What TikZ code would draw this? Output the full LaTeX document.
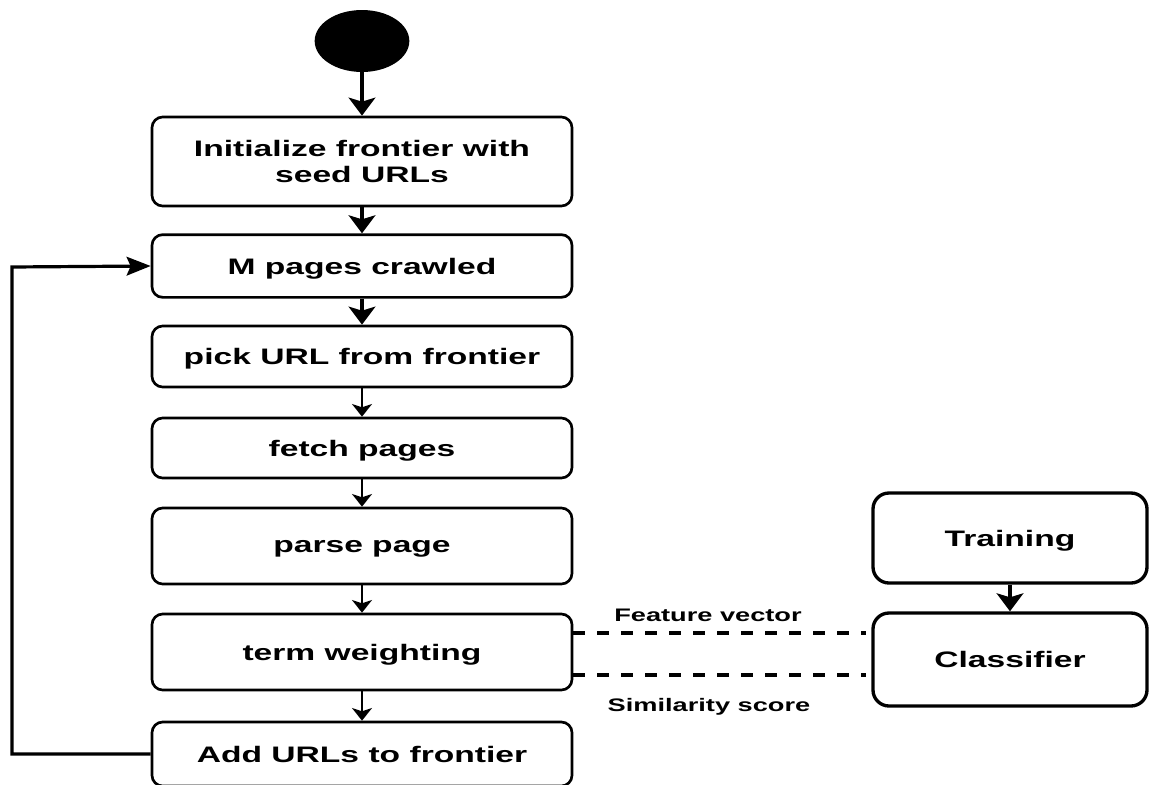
\documentclass[tikz,border=0pt]{standalone}
\usepackage{fontspec}
\newfontfamily\diafont{Liberation Sans}[FakeStretch=1.5]
\usetikzlibrary{arrows.meta,shapes.geometric}

\begin{document}
\begin{tikzpicture}
  [x=0.75pt,y=-0.75pt,
   every node/.style={font=\diafont\bfseries\fontsize{16.8}{20}\selectfont},
   stepbox/.style={draw,line width=2pt,rounded corners=8pt,minimum width=315pt,align=center,inner sep=0pt,text depth=0pt},
   sidebox/.style={draw,line width=2.5pt,rounded corners=12pt,minimum width=205.5pt,inner sep=0pt,text depth=0pt},
   lbl/.style={font=\diafont\bfseries\fontsize{13.6}{16}\selectfont},
   bigarrow/.style={line width=2.6pt,-{Stealth[length=13.5pt,width=20pt,inset=3pt]}},
   smallarrow/.style={line width=1.3pt,-{Stealth[length=9.5pt,width=15pt,inset=2.5pt]}},
   loopline/.style={line width=2.4pt,-{Stealth[length=18pt,width=14pt,inset=3pt]}},
   dashlink/.style={line width=2.4pt,dash pattern=on 9pt off 9pt,shorten >=4pt}]
  \useasboundingbox (0,0) rectangle (1150,785);

  \node[ellipse,fill=black,minimum width=71pt,minimum height=46.5pt,inner sep=0pt] (start) at (362,41) {};
  \node[stepbox,minimum height=66.75pt] (init) at (362,161.5) {Initialize frontier with\\seed URLs};
  \node[stepbox,minimum height=47pt] (crawl) at (362,266) {M pages crawled};
  \node[stepbox,minimum height=45.75pt] (pick) at (362,356.5) {pick URL from frontier};
  \node[stepbox,minimum height=45pt] (fetch) at (362,448) {fetch pages};
  \node[stepbox,minimum height=57pt] (parse) at (362,546) {parse page};
  \node[stepbox,minimum height=57pt] (term) at (362,652) {term weighting};
  \node[stepbox,minimum height=48pt] (add) at (362,754) {Add URLs to frontier};
  \node[sidebox,minimum height=67.5pt] (train) at (1010,538) {Training};
  \node[sidebox,minimum height=69.75pt] (cls) at (1010,659.5) {Classifier};
  \node[lbl] (fv) at (708,615) {Feature vector};
  \node[lbl] (sim) at (709,707) {Similarity score};
  \coordinate (corner) at (12,267);

  \foreach \from/\to in {start/init,init/crawl,crawl/pick,train/cls}
    \draw[bigarrow] (\from) -- (\to);
  \foreach \from/\to in {pick/fetch,fetch/parse,parse/term,term/add}
    \draw[smallarrow] (\from) -- (\to);

  \draw[loopline] (add.west) -| (corner) -- (crawl.west);
  \draw[dashlink] ([yshift=14.25pt]term.east) -- ([yshift=14.25pt]term.east -| cls.west);
  \draw[dashlink] ([yshift=-17.25pt]term.east) -- ([yshift=-17.25pt]term.east -| cls.west);

\end{tikzpicture}
\end{document}
